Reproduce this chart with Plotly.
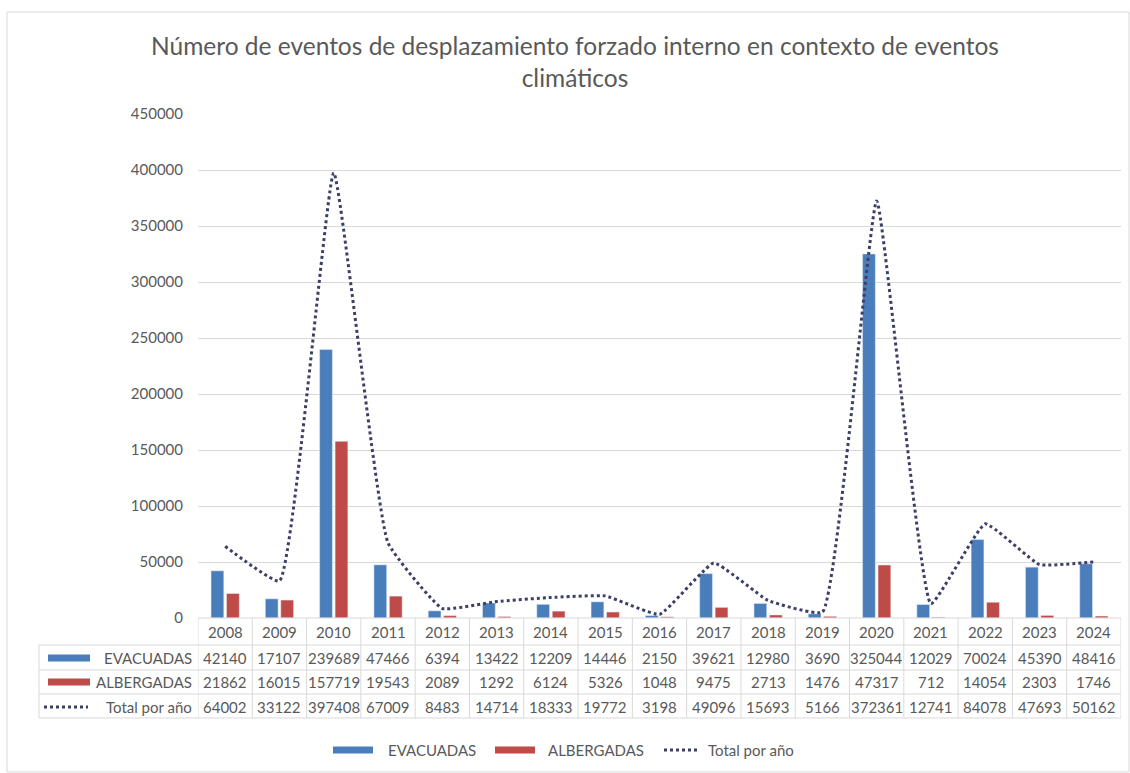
import plotly.graph_objects as go

years = ["2008", "2009", "2010", "2011", "2012", "2013", "2014", "2015", "2016",
         "2017", "2018", "2019", "2020", "2021", "2022", "2023", "2024"]
evacuadas = [42140, 17107, 239689, 47466, 6394, 13422, 12209, 14446, 2150,
             39621, 12980, 3690, 325044, 12029, 70024, 45390, 48416]
albergadas = [21862, 16015, 157719, 19543, 2089, 1292, 6124, 5326, 1048,
              9475, 2713, 1476, 47317, 712, 14054, 2303, 1746]
total = [64002, 33122, 397408, 67009, 8483, 14714, 18333, 19772, 3198,
         49096, 15693, 5166, 372361, 12741, 84078, 47693, 50162]
y_ticks = [0, 50000, 100000, 150000, 200000, 250000, 300000, 350000, 400000, 450000]

W, H = 1130, 773
L, R, T, B = 198, 1121, 114, 618
BLUE = "#4A7EBB"
RED = "#BE4B48"
LINE = "#3C3F66"
TXT = "#595959"
GRID = "#D9D9D9"
FONT = "Lato, 'Open Sans', sans-serif"
FS = 15


def px(X):
    return (X - L) / (R - L)


def py(Y):
    return (B - Y) / (B - T)


fig = go.Figure()
fig.add_trace(go.Bar(x=years, y=evacuadas, name="EVACUADAS", marker_color=BLUE))
fig.add_trace(go.Bar(x=years, y=albergadas, name="ALBERGADAS", marker_color=RED))
fig.add_trace(go.Scatter(x=years, y=total, name="Total por año", mode="lines",
                         line=dict(color=LINE, width=3, dash="dot", shape="spline", smoothing=0.35)))

shapes = []
annotations = []

# table lines
row_lines = [645, 670, 694, 718]
for Y in row_lines:
    shapes.append(dict(type="line", xref="paper", yref="paper", x0=px(39), x1=1,
                       y0=py(Y), y1=py(Y), line=dict(color=GRID, width=1)))
shapes.append(dict(type="line", xref="paper", yref="paper", x0=0, x1=1,
                   y0=0, y1=0, line=dict(color=GRID, width=1)))
for i in range(len(years) + 1):
    shapes.append(dict(type="line", xref="x", yref="paper", x0=i - 0.5, x1=i - 0.5,
                       y0=0, y1=py(718), line=dict(color=GRID, width=1)))
shapes.append(dict(type="line", xref="paper", yref="paper", x0=px(39), x1=px(39),
                   y0=py(645), y1=py(718), line=dict(color=GRID, width=1)))

row_centers = {"year": 632, "ev": 658, "al": 682, "tot": 707}
for i, yr in enumerate(years):
    for key, val in (("year", yr), ("ev", evacuadas[i]), ("al", albergadas[i]), ("tot", total[i])):
        annotations.append(dict(x=i, xref="x", y=py(row_centers[key]), yref="paper",
                                text=str(val), showarrow=False,
                                font=dict(family=FONT, size=FS, color=TXT),
                                xanchor="center", yanchor="middle"))

# row labels with swatches
labels = [("EVACUADAS", "ev", BLUE), ("ALBERGADAS", "al", RED), ("Total por año", "tot", None)]
for text, key, col in labels:
    yc = row_centers[key]
    annotations.append(dict(x=px(194), xref="paper", y=py(yc), yref="paper", text=text,
                            showarrow=False, xanchor="right", yanchor="middle",
                            font=dict(family=FONT, size=FS, color=TXT)))
    if col:
        shapes.append(dict(type="rect", xref="paper", yref="paper", x0=px(48), x1=px(90),
                           y0=py(yc + 3.5), y1=py(yc - 3.5), fillcolor=col, line=dict(width=0)))
    else:
        shapes.append(dict(type="line", xref="paper", yref="paper", x0=px(44), x1=px(88),
                           y0=py(yc), y1=py(yc), line=dict(color=LINE, width=3, dash="dot")))

# bottom legend
LY = 750
shapes.append(dict(type="rect", xref="paper", yref="paper", x0=px(333), x1=px(373),
                   y0=py(LY + 3.5), y1=py(LY - 3.5), fillcolor=BLUE, line=dict(width=0)))
shapes.append(dict(type="rect", xref="paper", yref="paper", x0=px(495), x1=px(535),
                   y0=py(LY + 3.5), y1=py(LY - 3.5), fillcolor=RED, line=dict(width=0)))
shapes.append(dict(type="line", xref="paper", yref="paper", x0=px(664), x1=px(700),
                   y0=py(LY), y1=py(LY), line=dict(color=LINE, width=3, dash="dot")))
for X, text in ((386, "EVACUADAS"), (546, "ALBERGADAS"), (706, "Total por año")):
    annotations.append(dict(x=px(X), xref="paper", y=py(LY), yref="paper", text=text,
                            showarrow=False, xanchor="left", yanchor="middle",
                            font=dict(family=FONT, size=FS, color=TXT)))

# outer border
shapes.append(dict(type="rect", xref="paper", yref="paper", x0=px(7), x1=px(1129),
                   y0=py(772), y1=py(12), line=dict(color=GRID, width=1)))

# title
annotations.append(dict(x=px(575), xref="paper", y=py(62), yref="paper",
                        text="Número de eventos de desplazamiento forzado interno en contexto de eventos<br>climáticos",
                        showarrow=False, xanchor="center", yanchor="middle",
                        font=dict(family=FONT, size=24.5, color=TXT)))

fig.update_layout(
    width=W, height=H,
    margin=dict(l=L, r=W - R, t=T, b=H - B),
    paper_bgcolor="white", plot_bgcolor="white",
    barmode="group", bargap=0.43, bargroupgap=0.175,
    showlegend=False,
    shapes=shapes, annotations=annotations,
    xaxis=dict(type="category", showticklabels=False, showgrid=False, zeroline=False,
               showline=False, range=[-0.5, len(years) - 0.5], fixedrange=True),
    yaxis=dict(range=[0, 450000], tickvals=y_ticks, ticktext=[str(v) for v in y_ticks],
               showgrid=True, gridcolor=GRID, gridwidth=1, zeroline=False, showline=False,
               tickfont=dict(family=FONT, size=FS, color=TXT), ticks="", ticklabelstandoff=14),
)

fig.write_html("out.html", config={"displayModeBar": False},
               post_script="document.body.style.margin='0';")
